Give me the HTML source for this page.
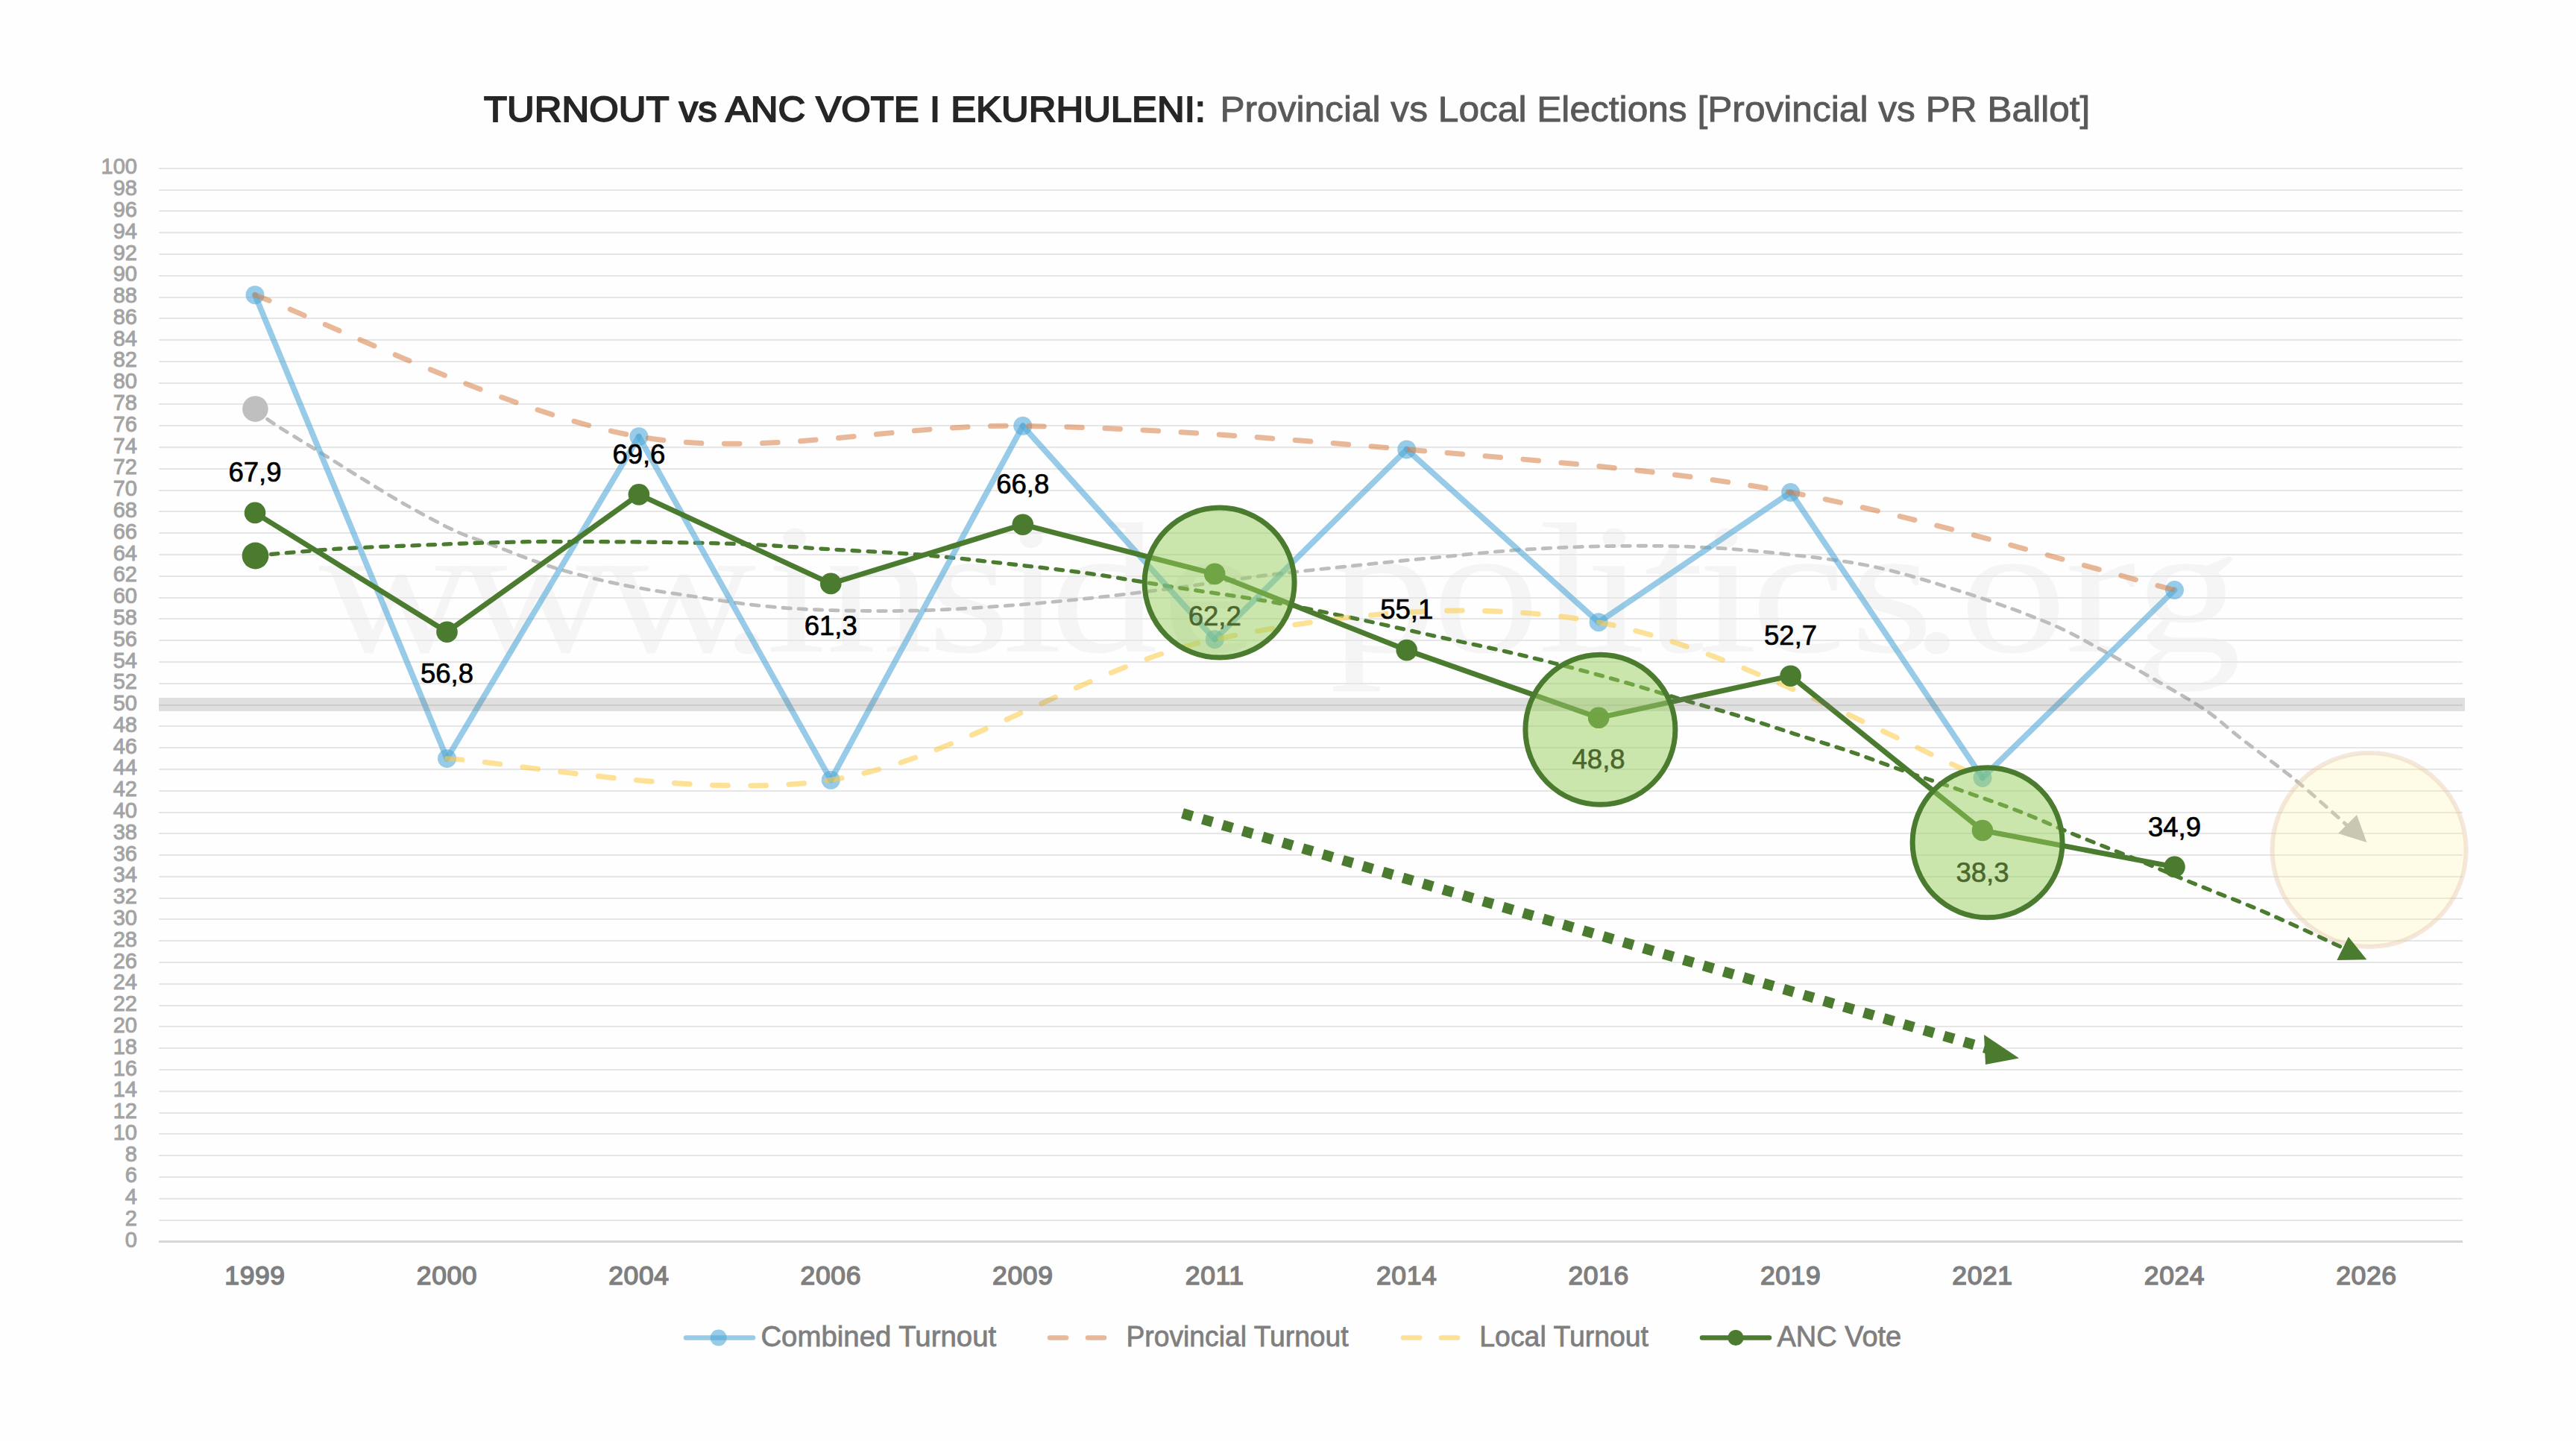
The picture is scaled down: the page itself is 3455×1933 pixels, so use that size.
<!DOCTYPE html>
<html><head><meta charset="utf-8"><title>Turnout vs ANC Vote Ekurhuleni</title>
<style>
html,body{margin:0;padding:0;background:#fefefe;overflow:hidden;}
svg{display:block;}
text{font-family:"Liberation Sans",sans-serif;}
.serif{font-family:"Liberation Serif",serif;}
</style></head><body>
<svg width="3455" height="1933" viewBox="0 0 3455 1933">
<rect x="0" y="0" width="3455" height="1933" fill="#fefefe"/>

<g class="serif" fill="#f5f5f5" font-size="250" text-anchor="middle">
<text class="serif" transform="translate(531.0,874) scale(1.15,1)" x="0.4" y="0">w</text>
<text class="serif" transform="translate(720.0,874) scale(1.15,1)" x="0.4" y="0">w</text>
<text class="serif" transform="translate(910.0,874) scale(1.15,1)" x="0.4" y="0">w</text>
<text class="serif" transform="translate(1002.0,874) scale(1.15,1)" x="-0.0" y="0">.</text>
<text class="serif" transform="translate(1068.0,874) scale(1.15,1)" x="-0.2" y="0">i</text>
<text class="serif" transform="translate(1180.0,874) scale(1.15,1)" x="-1.0" y="0">n</text>
<text class="serif" transform="translate(1300.0,874) scale(1.15,1)" x="-0.6" y="0">s</text>
<text class="serif" transform="translate(1385.0,874) scale(1.15,1)" x="-0.2" y="0">i</text>
<text class="serif" transform="translate(1484.0,874) scale(1.15,1)" x="-3.0" y="0">d</text>
<text class="serif" transform="translate(1623.0,874) scale(1.15,1)" x="-0.5" y="0">e</text>
<text class="serif" transform="translate(1852.0,874) scale(1.15,1)" x="2.9" y="0">p</text>
<text class="serif" transform="translate(1993.0,874) scale(1.15,1)" x="-0.0" y="0">o</text>
<text class="serif" transform="translate(2103.0,874) scale(1.15,1)" x="-0.0" y="0">l</text>
<text class="serif" transform="translate(2167.0,874) scale(1.15,1)" x="-0.2" y="0">i</text>
<text class="serif" transform="translate(2246.0,874) scale(1.15,1)" x="-0.5" y="0">t</text>
<text class="serif" transform="translate(2317.0,874) scale(1.15,1)" x="-0.2" y="0">i</text>
<text class="serif" transform="translate(2413.0,874) scale(1.15,1)" x="-0.9" y="0">c</text>
<text class="serif" transform="translate(2538.0,874) scale(1.15,1)" x="-0.6" y="0">s</text>
<text class="serif" transform="translate(2598.0,874) scale(1.15,1)" x="-0.0" y="0">.</text>
<text class="serif" transform="translate(2700.0,874) scale(1.15,1)" x="-0.0" y="0">o</text>
<text class="serif" transform="translate(2819.0,874) scale(1.15,1)" x="-1.4" y="0">r</text>
<text class="serif" transform="translate(2938.0,874) scale(1.15,1)" x="-3.0" y="0">g</text>
</g>
<text x="649" y="163" font-size="48.5" fill="#262626" stroke="#262626" stroke-width="1.9" textLength="968" lengthAdjust="spacingAndGlyphs">TURNOUT vs ANC VOTE I EKURHULENI:</text>
<text x="1636.4" y="163.4" font-size="49" fill="#595959" stroke="#595959" stroke-width="0.9" textLength="1167" lengthAdjust="spacingAndGlyphs">Provincial vs Local Elections [Provincial vs PR Ballot]</text>
<rect x="213" y="1664" width="3090" height="3" fill="#d6d6d6"/>
<g fill="#e6e6e6">
<rect x="213" y="1636" width="3090" height="2"/>
<rect x="213" y="1607" width="3090" height="2"/>
<rect x="213" y="1578" width="3090" height="2"/>
<rect x="213" y="1549" width="3090" height="2"/>
<rect x="213" y="1520" width="3090" height="2"/>
<rect x="213" y="1492" width="3090" height="2"/>
<rect x="213" y="1463" width="3090" height="2"/>
<rect x="213" y="1434" width="3090" height="2"/>
<rect x="213" y="1405" width="3090" height="2"/>
<rect x="213" y="1376" width="3090" height="2"/>
<rect x="213" y="1348" width="3090" height="2"/>
<rect x="213" y="1319" width="3090" height="2"/>
<rect x="213" y="1290" width="3090" height="2"/>
<rect x="213" y="1261" width="3090" height="2"/>
<rect x="213" y="1232" width="3090" height="2"/>
<rect x="213" y="1204" width="3090" height="2"/>
<rect x="213" y="1175" width="3090" height="2"/>
<rect x="213" y="1146" width="3090" height="2"/>
<rect x="213" y="1117" width="3090" height="2"/>
<rect x="213" y="1089" width="3090" height="2"/>
<rect x="213" y="1060" width="3090" height="2"/>
<rect x="213" y="1031" width="3090" height="2"/>
<rect x="213" y="1002" width="3090" height="2"/>
<rect x="213" y="973" width="3090" height="2"/>
<rect x="213" y="945" width="3090" height="2"/>
<rect x="213" y="916" width="3090" height="2"/>
<rect x="213" y="887" width="3090" height="2"/>
<rect x="213" y="858" width="3090" height="2"/>
<rect x="213" y="829" width="3090" height="2"/>
<rect x="213" y="801" width="3090" height="2"/>
<rect x="213" y="772" width="3090" height="2"/>
<rect x="213" y="743" width="3090" height="2"/>
<rect x="213" y="714" width="3090" height="2"/>
<rect x="213" y="685" width="3090" height="2"/>
<rect x="213" y="657" width="3090" height="2"/>
<rect x="213" y="628" width="3090" height="2"/>
<rect x="213" y="599" width="3090" height="2"/>
<rect x="213" y="570" width="3090" height="2"/>
<rect x="213" y="541" width="3090" height="2"/>
<rect x="213" y="513" width="3090" height="2"/>
<rect x="213" y="484" width="3090" height="2"/>
<rect x="213" y="455" width="3090" height="2"/>
<rect x="213" y="426" width="3090" height="2"/>
<rect x="213" y="398" width="3090" height="2"/>
<rect x="213" y="369" width="3090" height="2"/>
<rect x="213" y="340" width="3090" height="2"/>
<rect x="213" y="311" width="3090" height="2"/>
<rect x="213" y="282" width="3090" height="2"/>
<rect x="213" y="254" width="3090" height="2"/>
<rect x="213" y="225" width="3090" height="2"/>
</g>
<g font-size="29" fill="#a3a3a3" stroke="#a3a3a3" stroke-width="0.9" text-anchor="end">
<text x="184" y="1672.8">0</text>
<text x="184" y="1644.0">2</text>
<text x="184" y="1615.2">4</text>
<text x="184" y="1586.4">6</text>
<text x="184" y="1557.6">8</text>
<text x="184" y="1528.8">10</text>
<text x="184" y="1500.1">12</text>
<text x="184" y="1471.3">14</text>
<text x="184" y="1442.5">16</text>
<text x="184" y="1413.7">18</text>
<text x="184" y="1384.9">20</text>
<text x="184" y="1356.1">22</text>
<text x="184" y="1327.3">24</text>
<text x="184" y="1298.5">26</text>
<text x="184" y="1269.7">28</text>
<text x="184" y="1241.0">30</text>
<text x="184" y="1212.2">32</text>
<text x="184" y="1183.4">34</text>
<text x="184" y="1154.6">36</text>
<text x="184" y="1125.8">38</text>
<text x="184" y="1097.0">40</text>
<text x="184" y="1068.2">42</text>
<text x="184" y="1039.4">44</text>
<text x="184" y="1010.6">46</text>
<text x="184" y="981.8">48</text>
<text x="184" y="953.0">50</text>
<text x="184" y="924.3">52</text>
<text x="184" y="895.5">54</text>
<text x="184" y="866.7">56</text>
<text x="184" y="837.9">58</text>
<text x="184" y="809.1">60</text>
<text x="184" y="780.3">62</text>
<text x="184" y="751.5">64</text>
<text x="184" y="722.7">66</text>
<text x="184" y="693.9">68</text>
<text x="184" y="665.1">70</text>
<text x="184" y="636.4">72</text>
<text x="184" y="607.6">74</text>
<text x="184" y="578.8">76</text>
<text x="184" y="550.0">78</text>
<text x="184" y="521.2">80</text>
<text x="184" y="492.4">82</text>
<text x="184" y="463.6">84</text>
<text x="184" y="434.8">86</text>
<text x="184" y="406.0">88</text>
<text x="184" y="377.2">90</text>
<text x="184" y="348.5">92</text>
<text x="184" y="319.7">94</text>
<text x="184" y="290.9">96</text>
<text x="184" y="262.1">98</text>
<text x="184" y="233.3">100</text>
</g>
<g font-size="35.5" fill="#7f7f7f" stroke="#7f7f7f" stroke-width="1.5" text-anchor="middle" letter-spacing="0.6">
<text x="342.0" y="1723">1999</text>
<text x="599.5" y="1723">2000</text>
<text x="856.9" y="1723">2004</text>
<text x="1114.3" y="1723">2006</text>
<text x="1371.8" y="1723">2009</text>
<text x="1629.2" y="1723">2011</text>
<text x="1886.7" y="1723">2014</text>
<text x="2144.1" y="1723">2016</text>
<text x="2401.6" y="1723">2019</text>
<text x="2659.0" y="1723">2021</text>
<text x="2916.5" y="1723">2024</text>
<text x="3173.9" y="1723">2026</text>
</g>
<path d="M342.4,548.6 C346.3,551.7 352.2,558.2 365.7,567.3 C379.2,576.4 403.3,590.6 423.2,603.0 C443.1,615.4 464.6,629.1 485.3,641.8 C506.0,654.5 526.7,667.4 547.4,679.0 C568.1,690.6 591.6,703.4 609.5,711.7 C627.4,720.0 632.4,720.6 654.7,728.9 C677.0,737.2 712.9,752.2 743.2,761.5 C773.5,770.8 805.4,778.4 836.4,784.8 C867.4,791.2 898.5,795.3 929.5,800.0 C960.5,804.7 991.6,809.7 1022.7,812.8 C1053.8,815.9 1081.0,817.6 1115.9,818.6 C1150.9,819.6 1194.0,820.0 1232.4,819.0 C1270.8,818.0 1308.1,815.6 1346.5,812.8 C1384.9,810.0 1424.2,806.4 1463.0,802.3 C1501.8,798.2 1540.6,793.3 1579.4,788.3 C1618.2,783.2 1657.1,776.9 1695.9,772.0 C1734.7,767.1 1773.9,763.2 1812.3,759.2 C1850.7,755.2 1888.0,751.4 1926.5,747.8 C1965.0,744.1 2004.2,739.8 2043.0,737.3 C2081.8,734.8 2120.6,733.2 2159.4,732.6 C2198.2,732.0 2237.1,732.0 2275.9,733.8 C2314.7,735.5 2352.5,738.6 2392.3,743.1 C2432.1,747.6 2473.6,751.7 2514.9,760.6 C2556.2,769.5 2600.7,783.8 2639.9,796.5 C2679.1,809.2 2720.1,824.2 2750.0,836.8 C2779.9,849.4 2796.3,859.8 2819.4,872.2 C2842.5,884.6 2865.7,897.6 2888.8,911.0 C2911.9,924.4 2938.8,939.4 2958.1,952.6 C2977.4,965.8 2984.6,974.2 3004.9,990.0 C3025.2,1005.8 3055.7,1027.6 3079.9,1047.4 C3104.1,1067.2 3138.3,1098.7 3150.0,1109.0" fill="none" stroke="#bdbdbd" stroke-width="4.8" stroke-linecap="round" stroke-dasharray="10.6 10.73"/>
<circle cx="342.4" cy="548.6" r="17.3" fill="#bfbfbf"/>
<polygon points="3174.3,1129.9 3136,1117.9 3161,1092.9" fill="#bcbcbc"/>
<circle cx="3177.6" cy="1140" r="130" fill="rgb(255,246,140)" fill-opacity="0.2" stroke="rgb(225,190,160)" stroke-opacity="0.35" stroke-width="6"/>
<path d="M342.5,745.5 C346.0,745.2 349.1,744.8 363.5,743.5 C377.9,742.2 410.1,739.4 428.7,738.0 C447.3,736.6 454.6,736.0 475.3,735.0 C496.0,734.0 527.0,732.8 552.9,731.8 C578.8,730.8 604.7,729.6 630.6,728.7 C656.5,727.9 685.6,727.1 708.2,726.7 C730.9,726.4 737.4,726.5 766.5,726.6 C795.6,726.7 844.2,726.7 883.0,727.3 C921.8,727.9 960.6,728.4 999.4,730.0 C1038.2,731.6 1077.1,734.7 1115.9,737.0 C1154.7,739.3 1194.0,740.9 1232.4,744.0 C1270.8,747.1 1308.1,751.4 1346.5,755.7 C1384.9,760.0 1424.2,764.3 1463.0,769.7 C1501.8,775.1 1540.6,782.3 1579.4,788.3 C1618.2,794.3 1657.5,799.2 1695.9,805.8 C1734.3,812.4 1771.6,820.1 1810.0,828.1 C1848.4,836.1 1887.7,845.2 1926.5,853.7 C1965.3,862.2 2004.2,870.1 2043.0,879.4 C2081.8,888.7 2122.3,899.3 2159.4,909.6 C2196.5,919.9 2237.5,932.9 2265.5,941.1 C2293.5,949.3 2304.3,951.9 2327.6,959.0 C2350.9,966.1 2379.4,975.6 2405.3,983.9 C2431.2,992.2 2457.0,999.9 2482.9,1008.7 C2508.8,1017.5 2536.1,1028.0 2560.6,1036.6 C2585.1,1045.2 2605.5,1051.6 2630.0,1060.2 C2654.5,1068.8 2681.7,1078.0 2707.6,1088.1 C2733.5,1098.2 2759.4,1110.1 2785.3,1120.7 C2811.2,1131.3 2837.0,1141.2 2862.9,1151.8 C2888.8,1162.4 2914.7,1173.8 2940.6,1184.4 C2966.5,1195.0 2996.6,1206.6 3018.2,1215.5 C3039.8,1224.4 3048.0,1228.1 3070.0,1238.0 C3092.0,1247.9 3136.7,1268.8 3150.0,1275.0" fill="none" stroke="#4b7b2f" stroke-width="5.3" stroke-linecap="round" stroke-dasharray="9.6 11.49"/>
<circle cx="342.5" cy="745.5" r="17.9" fill="#4b7b2f"/>
<polygon points="3174.3,1287.2 3134.3,1288 3149.8,1256.8" fill="#4b7b2f"/>
<line x1="342.0" y1="395.7" x2="599.5" y2="1017.5" stroke="rgba(82,168,215,0.6)" stroke-width="7.8" stroke-linecap="round"/>
<line x1="599.5" y1="1017.5" x2="856.9" y2="585.7" stroke="rgba(82,168,215,0.6)" stroke-width="7.8" stroke-linecap="round"/>
<line x1="856.9" y1="585.7" x2="1114.3" y2="1046.3" stroke="rgba(82,168,215,0.6)" stroke-width="7.8" stroke-linecap="round"/>
<line x1="1114.3" y1="1046.3" x2="1371.8" y2="571.3" stroke="rgba(82,168,215,0.6)" stroke-width="7.8" stroke-linecap="round"/>
<line x1="1371.8" y1="571.3" x2="1629.2" y2="857.7" stroke="rgba(82,168,215,0.6)" stroke-width="7.8" stroke-linecap="round"/>
<line x1="1629.2" y1="857.7" x2="1886.7" y2="602.9" stroke="rgba(82,168,215,0.6)" stroke-width="7.8" stroke-linecap="round"/>
<line x1="1886.7" y1="602.9" x2="2144.1" y2="834.7" stroke="rgba(82,168,215,0.6)" stroke-width="7.8" stroke-linecap="round"/>
<line x1="2144.1" y1="834.7" x2="2401.6" y2="660.5" stroke="rgba(82,168,215,0.6)" stroke-width="7.8" stroke-linecap="round"/>
<line x1="2401.6" y1="660.5" x2="2659.0" y2="1043.4" stroke="rgba(82,168,215,0.6)" stroke-width="7.8" stroke-linecap="round"/>
<line x1="2659.0" y1="1043.4" x2="2916.5" y2="791.5" stroke="rgba(82,168,215,0.6)" stroke-width="7.8" stroke-linecap="round"/>
<circle cx="342.0" cy="395.7" r="12.5" fill="rgba(82,168,215,0.6)"/>
<circle cx="599.5" cy="1017.5" r="12.5" fill="rgba(82,168,215,0.6)"/>
<circle cx="856.9" cy="585.7" r="12.5" fill="rgba(82,168,215,0.6)"/>
<circle cx="1114.3" cy="1046.3" r="12.5" fill="rgba(82,168,215,0.6)"/>
<circle cx="1371.8" cy="571.3" r="12.5" fill="rgba(82,168,215,0.6)"/>
<circle cx="1629.2" cy="857.7" r="12.5" fill="rgba(82,168,215,0.6)"/>
<circle cx="1886.7" cy="602.9" r="12.5" fill="rgba(82,168,215,0.6)"/>
<circle cx="2144.1" cy="834.7" r="12.5" fill="rgba(82,168,215,0.6)"/>
<circle cx="2401.6" cy="660.5" r="12.5" fill="rgba(82,168,215,0.6)"/>
<circle cx="2659.0" cy="1043.4" r="12.5" fill="rgba(82,168,215,0.6)"/>
<circle cx="2916.5" cy="791.5" r="12.5" fill="rgba(82,168,215,0.6)"/>
<path d="M342.0,395.7 C427.8,427.3 685.3,556.4 856.9,585.7 C1028.5,614.9 1200.2,568.4 1371.8,571.3 C1543.4,574.2 1715.1,588.1 1886.7,602.9 C2058.3,617.8 2230.0,629.1 2401.6,660.5 C2573.2,692.0 2830.7,769.7 2916.5,791.5" fill="none" stroke="rgba(215,126,68,0.55)" stroke-width="7" stroke-linecap="round" stroke-dasharray="20.6 30.55"/>
<path d="M599.5,1017.5 C685.3,1022.3 942.7,1072.9 1114.3,1046.3 C1286.0,1019.7 1457.6,893.0 1629.2,857.7 C1800.9,822.5 1972.5,803.8 2144.1,834.7 C2315.8,865.7 2573.2,1008.6 2659.0,1043.4" fill="none" stroke="rgba(250,205,80,0.6)" stroke-width="7" stroke-linecap="round" stroke-dasharray="20.6 30.55"/>
<path d="M342.0,687.9 L599.5,847.7 L856.9,663.4 L1114.3,782.9 L1371.8,703.7 L1629.2,769.9 L1886.7,872.1 L2144.1,962.8 L2401.6,906.7 L2659.0,1114.0 L2916.5,1162.9" fill="none" stroke="#4b7b2f" stroke-width="7" stroke-linejoin="round"/>
<circle cx="342.0" cy="687.9" r="14.3" fill="#4b7b2f"/>
<circle cx="599.5" cy="847.7" r="14.3" fill="#4b7b2f"/>
<circle cx="856.9" cy="663.4" r="14.3" fill="#4b7b2f"/>
<circle cx="1114.3" cy="782.9" r="14.3" fill="#4b7b2f"/>
<circle cx="1371.8" cy="703.7" r="14.3" fill="#4b7b2f"/>
<circle cx="1629.2" cy="769.9" r="14.3" fill="#4b7b2f"/>
<circle cx="1886.7" cy="872.1" r="14.3" fill="#4b7b2f"/>
<circle cx="2144.1" cy="962.8" r="14.3" fill="#4b7b2f"/>
<circle cx="2401.6" cy="906.7" r="14.3" fill="#4b7b2f"/>
<circle cx="2659.0" cy="1114.0" r="14.3" fill="#4b7b2f"/>
<circle cx="2916.5" cy="1162.9" r="14.3" fill="#4b7b2f"/>
<line x1="1586" y1="1091" x2="2670" y2="1408" stroke="#4b7b2f" stroke-width="14" stroke-dasharray="14 14"/>
<polygon points="2708,1419.5 2661,1388 2663,1428" fill="#4b7b2f"/>
<g font-size="36.5" fill="#000" stroke="#000" stroke-width="0.7" text-anchor="middle">
<text x="342.0" y="645.8">67,9</text>
<text x="599.5" y="915.9">56,8</text>
<text x="856.9" y="621.8">69,6</text>
<text x="1114.3" y="852.0">61,3</text>
<text x="1371.8" y="661.7">66,8</text>
<text x="1629.2" y="839.2">62,2</text>
<text x="1886.7" y="830.0">55,1</text>
<text x="2144.1" y="1031.0">48,8</text>
<text x="2401.6" y="865.3">52,7</text>
<text x="2659.0" y="1183.3">38,3</text>
<text x="2916.5" y="1122.2">34,9</text>
</g>
<rect x="213" y="936" width="3093" height="18" fill="rgba(122,122,122,0.23)"/>
<circle cx="1635.6" cy="781.6" r="100.5" fill="rgb(151,205,92)" fill-opacity="0.5" stroke="#4b7b2f" stroke-width="7"/>
<circle cx="2146.4" cy="978.8" r="100.5" fill="rgb(151,205,92)" fill-opacity="0.5" stroke="#4b7b2f" stroke-width="7"/>
<circle cx="2665.6" cy="1130.2" r="100.5" fill="rgb(151,205,92)" fill-opacity="0.5" stroke="#4b7b2f" stroke-width="7"/>
<g stroke-linecap="round">
<line x1="920" y1="1794.5" x2="1010" y2="1794.5" stroke="rgba(82,168,215,0.6)" stroke-width="6.5"/>
<circle cx="963.7" cy="1794.5" r="11" fill="rgba(82,168,215,0.6)"/>
<line x1="1408" y1="1794.5" x2="1430" y2="1794.5" stroke="rgba(215,126,68,0.55)" stroke-width="6.5"/>
<line x1="1459" y1="1794.5" x2="1481" y2="1794.5" stroke="rgba(215,126,68,0.55)" stroke-width="6.5"/>
<line x1="1882" y1="1794.5" x2="1904" y2="1794.5" stroke="rgba(250,205,80,0.6)" stroke-width="6.5"/>
<line x1="1933" y1="1794.5" x2="1955" y2="1794.5" stroke="rgba(250,205,80,0.6)" stroke-width="6.5"/>
<line x1="2283" y1="1794.5" x2="2373" y2="1794.5" stroke="#4b7b2f" stroke-width="6.5"/>
<circle cx="2328" cy="1794.5" r="10.6" fill="#4b7b2f"/>
</g>
<g font-size="38" fill="#7f7f7f" stroke="#7f7f7f" stroke-width="0.8">
<text x="1020.4" y="1806.2" textLength="315.8" lengthAdjust="spacingAndGlyphs">Combined Turnout</text>
<text x="1510.4" y="1806.2" textLength="298.3" lengthAdjust="spacingAndGlyphs">Provincial Turnout</text>
<text x="1984.3" y="1806.2" textLength="226.7" lengthAdjust="spacingAndGlyphs">Local Turnout</text>
<text x="2383.5" y="1806.2" textLength="166.7" lengthAdjust="spacingAndGlyphs">ANC Vote</text>
</g>
</svg></body></html>
